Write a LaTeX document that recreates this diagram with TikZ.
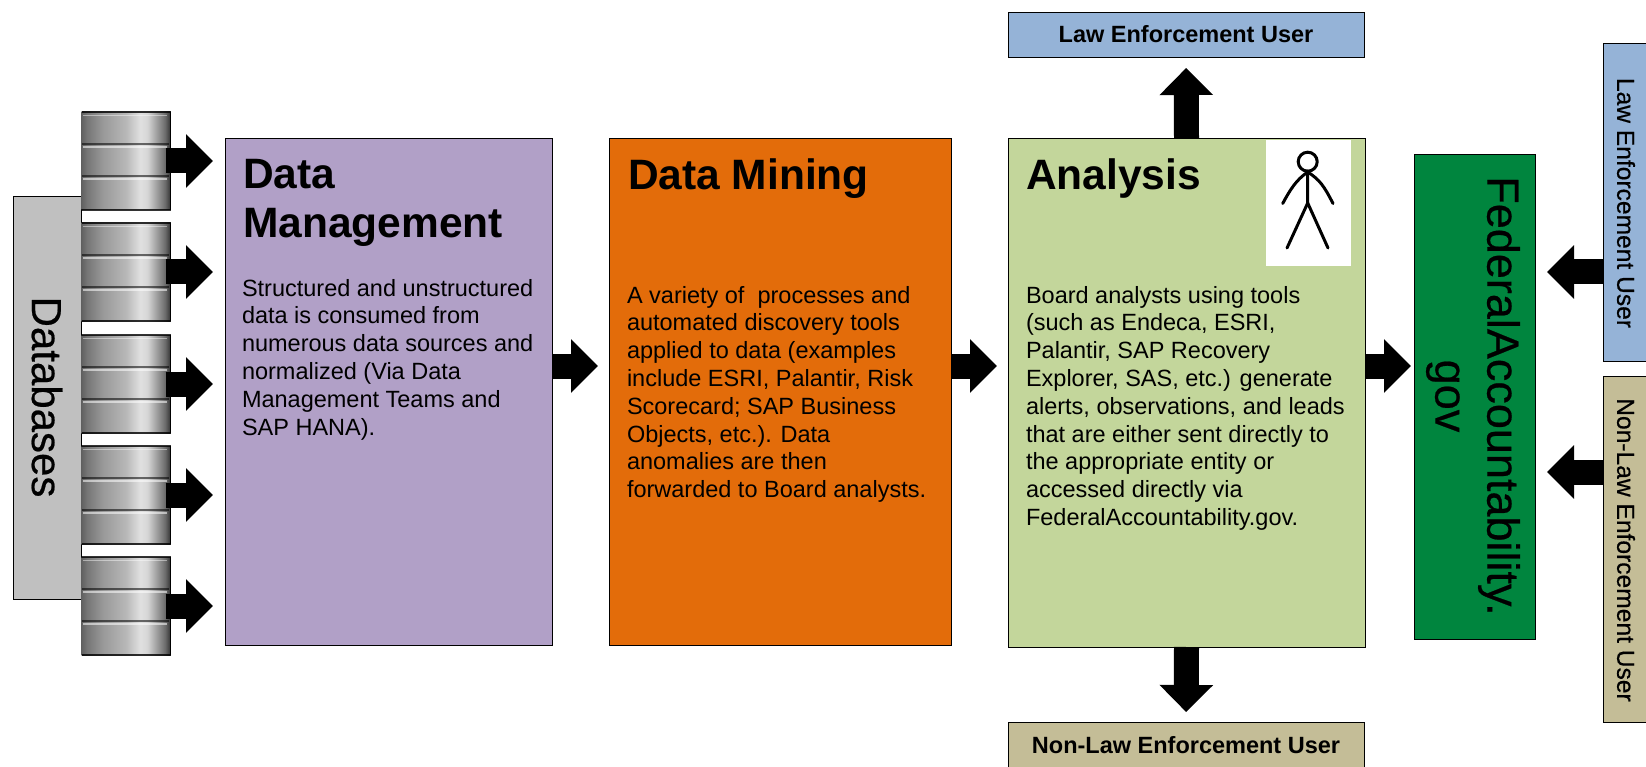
\documentclass[tikz,border=0pt]{standalone}
\usepackage{fontspec}
\setmainfont{Liberation Sans}
\newfontfamily\heavyish[FakeBold=0.5]{Liberation Sans}
\usetikzlibrary{arrows.meta,calc}
\definecolor{cPurple}{RGB}{177,160,199}
\definecolor{cOrange}{RGB}{227,108,10}
\definecolor{cSage}{RGB}{195,214,155}
\definecolor{cBlue}{RGB}{149,179,215}
\definecolor{cTan}{RGB}{196,189,151}
\definecolor{cGreen}{RGB}{0,133,62}
\definecolor{cGrey}{RGB}{192,192,192}
\pgfdeclarehorizontalshading{cylshade}{100bp}{
  rgb(0bp)=(.38,.38,.38);
  rgb(25bp)=(.38,.38,.38);
  rgb(28bp)=(.46,.46,.46);
  rgb(37bp)=(.60,.60,.60);
  rgb(50bp)=(.72,.72,.72);
  rgb(58bp)=(.88,.88,.88);
  rgb(62bp)=(.84,.84,.84);
  rgb(69bp)=(.55,.55,.55);
  rgb(72bp)=(.42,.42,.42);
  rgb(75bp)=(.20,.20,.20);
  rgb(100bp)=(.20,.20,.20)}
\tikzset{
  box/.style={draw=black,line width=.9pt,inner sep=0pt,outer sep=0pt,anchor=north west},
  txt/.style={inner sep=0pt,outer sep=0pt,anchor=north west,align=left,text=black,
    font=\fontsize{23.5}{27.8}\selectfont},
  titletxt/.style={inner sep=0pt,outer sep=0pt,anchor=north west,align=left,text=black,
    font=\fontsize{42.5}{49.5}\selectfont\bfseries},
  boldlabel/.style={inner sep=0pt,outer sep=0pt,text=black,font=\fontsize{23.5}{28}\selectfont\bfseries},
  sidelabel/.style={inner sep=0pt,outer sep=0pt,text=black,rotate=-90,font=\heavyish\fontsize{24.6}{28}\selectfont},
  dblabelstyle/.style={inner sep=0pt,outer sep=0pt,text=black,rotate=-90,font=\heavyish\fontsize{42}{50}\selectfont},
  biglabel/.style={inner sep=0pt,outer sep=0pt,text=black,rotate=-90,align=center,
    font=\heavyish\fontsize{45}{52}\selectfont},
  cyl/.style={inner sep=0pt,outer sep=0pt,anchor=north west,minimum width=89pt,minimum height=98pt,
    shading=cylshade},
  blockarrow/.style={line width=25pt,draw=black,-{Triangle[length=27pt,width=52pt]}},
}
\begin{document}
\begin{tikzpicture}[x=1pt,y=-1pt]
\useasboundingbox (0,0) rectangle (1646,767);
% databases
\node[box,fill=cGrey,minimum width=68pt,minimum height=403pt] (db) at (13,196) {};
\node[dblabelstyle] (dblabel) at (47,397) {Databases};
% cylinders
\foreach \n/\y in {1/112,2/223,3/335,4/446,5/557}{
  \node[cyl] (cyl\n) at (81.5,\y) {};
  \foreach \d in {32,64}{
    \draw[black,opacity=.55,line width=2.4pt] (82,\y+\d) -- (169,\y+\d);
    \draw[white,opacity=.55,line width=1.5pt] (83,\y+\d+3) -- (167,\y+\d+3);
  }
  \draw[white,opacity=.45,line width=1.5pt] (83,\y+3.5) -- (167,\y+3.5);
  \draw[black,opacity=.8,line width=1.4pt] (cyl\n.north west) -- (cyl\n.north east);
  \draw[black,opacity=.8,line width=1.6pt] (cyl\n.south west) -- (cyl\n.south east);
  \draw[black,line width=1.6pt] (cyl\n.north east) -- (cyl\n.south east);
}
% main boxes
\node[box,fill=cPurple,minimum width=327pt,minimum height=507pt] (mgmt) at (225,138) {};
\node[box,fill=cOrange,minimum width=342pt,minimum height=507pt] (mine) at (609,138) {};
\node[box,fill=cSage,minimum width=357pt,minimum height=509pt] (anal) at (1008,138) {};
\node[box,fill=cGreen,minimum width=121pt,minimum height=485pt] (fed) at (1414,154) {};
\node[box,fill=cBlue,minimum width=356pt,minimum height=45pt] (letop) at (1008,12) {};
\node[box,fill=cTan,minimum width=356pt,minimum height=46pt] (nlebot) at (1008,722) {};
\node[box,fill=cBlue,minimum width=46pt,minimum height=318pt] (leside) at (1603,43) {};
\node[box,fill=cTan,minimum width=46pt,minimum height=346pt] (nleside) at (1603,376) {};
% texts
\node[titletxt] (t1) at (243,159) {Data\\Management};
\node[txt] (b1) at (242,279) {Structured and unstructured\\data is consumed from\\numerous data sources and\\normalized (Via Data\\Management Teams and\\SAP HANA).};
\node[titletxt] (t2) at (628,159) {Data Mining};
\node[txt] (b2) at (627,286) {A variety of\ \ processes and\\automated discovery tools\\applied to data (examples\\include ESRI, Palantir, Risk\\Scorecard; SAP Business\\Objects, etc.). Data\\anomalies are then\\forwarded to Board analysts.};
\node[titletxt] (t3) at (1026,159) {Analysis};
\node[txt] (b3) at (1026,286) {Board analysts using tools\\(such as Endeca, ESRI,\\Palantir, SAP Recovery\\Explorer, SAS, etc.) generate\\alerts, observations, and leads\\that are either sent directly to\\the appropriate entity or\\accessed directly via\\FederalAccountability.gov.};
\node[boldlabel] (l1) at (letop) {Law Enforcement User};
\node[boldlabel] (l2) at (nlebot) {Non-Law Enforcement User};
\node[sidelabel] (l3) at (1626,203) {Law Enforcement User};
\node[sidelabel] (l4) at (1626,550) {Non-Law Enforcement User};
\node[biglabel] (fedlabel) at (1473,396) {FederalAccountability.\\gov};
% person
\node[inner sep=0pt,outer sep=0pt,anchor=north west,fill=white,minimum width=85pt,minimum height=126pt] (pic) at (1266,140) {};
\begin{scope}[line width=3pt,line cap=round,line join=round,black]
\draw (1307.7,161.7) circle (9.5pt);
\draw (1307.7,171) -- (1307.7,203) -- (1287,248);
\draw (1307.7,203) -- (1328,248);
\draw (1282.7,203.5) .. controls (1290,190) and (1296,180) .. (1307.7,172) .. controls (1320,180) and (1324,186) .. (1333,203.5);
\end{scope}
% connectors
\coordinate (midrow) at (0,366);
\coordinate (lerow) at (0,272);
\coordinate (nlerow) at (0,472);
\foreach \n in {1,...,5}{
  \draw[blockarrow,shorten >=12pt,shorten <=-5pt] (cyl\n.east) -- (cyl\n.east -| mgmt.west);
}
\draw[blockarrow,shorten >=11pt] (mgmt.east |- midrow) -- (mine.west |- midrow);
\draw[blockarrow,shorten >=11pt] (mine.east |- midrow) -- (anal.west |- midrow);
\draw[blockarrow,shorten >=3pt] (anal.east |- midrow) -- (fed.west |- midrow);
\draw[blockarrow,shorten >=11pt] (anal.north) -- (letop.south);
\draw[blockarrow,shorten >=10pt] (anal.south) -- (nlebot.north);
\draw[blockarrow,shorten >=12pt] (leside.west |- lerow) -- (fed.east |- lerow);
\draw[blockarrow,shorten >=12pt] (nleside.west |- nlerow) -- (fed.east |- nlerow);
\end{tikzpicture}
\end{document}
